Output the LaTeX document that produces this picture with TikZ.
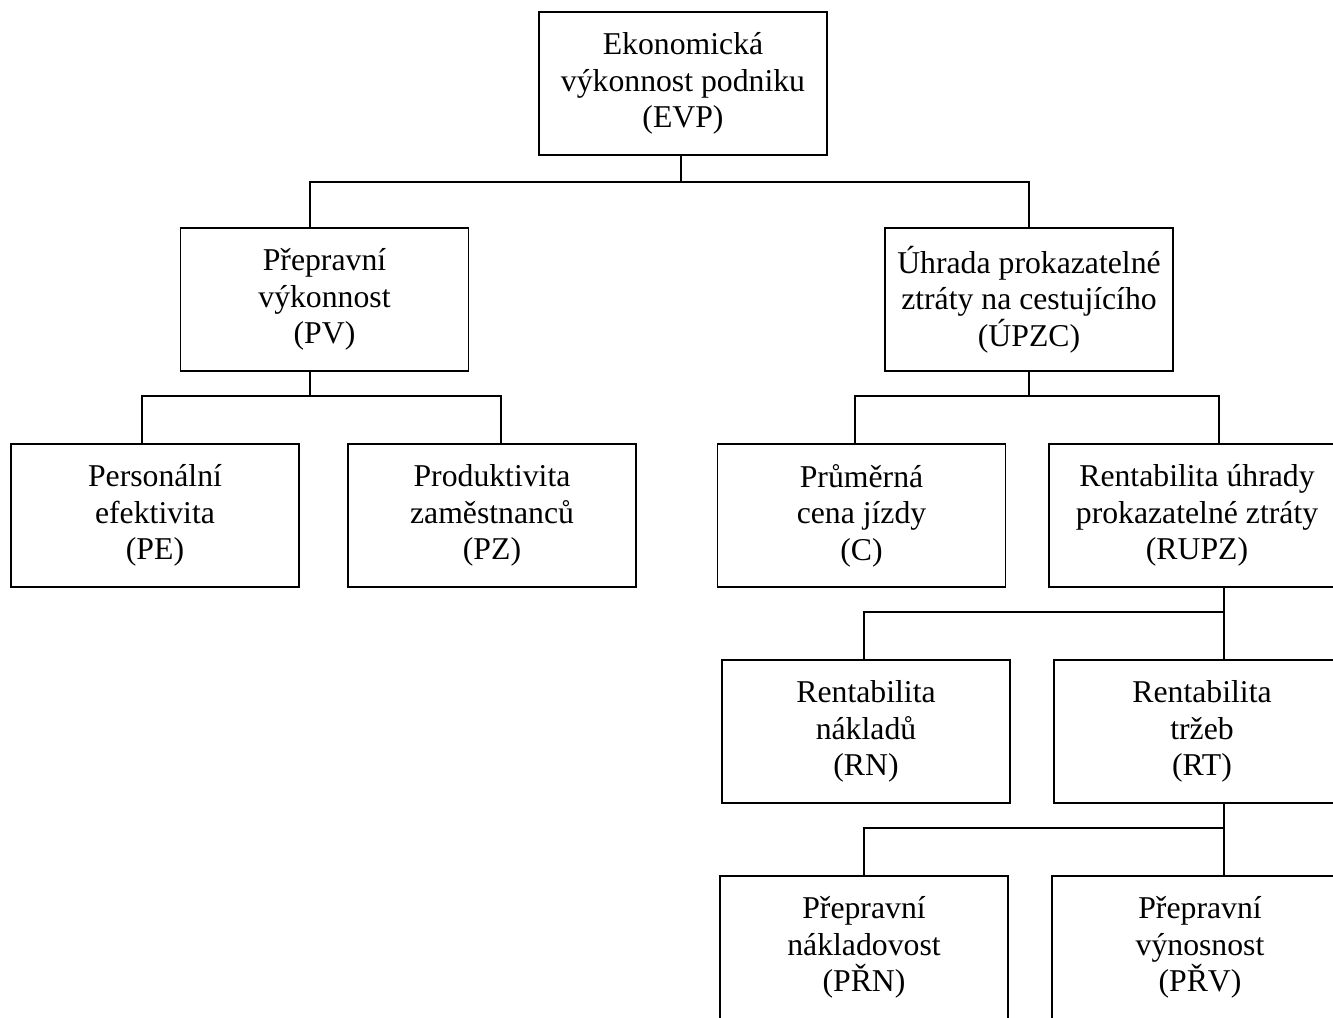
\documentclass[tikz,border=0pt]{standalone}
\usepackage{fontspec}
\setmainfont{Liberation Serif}
\begin{document}
\begin{tikzpicture}[x=0.75pt,y=-0.75pt,
  box/.style={draw=black, line width=1.4pt, inner sep=0pt, outer sep=0pt,
    minimum width=216pt, minimum height=107.25pt, align=center,
    font=\fontsize{23.8pt}{27.4pt}\selectfont},
  widebox/.style={box, minimum width=222pt},
  conn/.style={draw=black, line width=1.4pt}]
\useasboundingbox (0,0) rectangle (1333,1017);
\clip (0,0) rectangle (1333,1017);
\fill[white] (0,0) rectangle (1333,1017);
% row 1
\node[box] (evp) at (683,83.5) {Ekonomická\\výkonnost podniku\\(EVP)};
% row 2
\node[box] (pv) at (324.5,299.5) {Přepravní\\výkonnost\\(PV)};
\node[box] (upzc) at (1029,299.5) {Úhrada prokazatelné\\ztráty na cestujícího\\(ÚPZC)};
% row 3
\node[box] (pe) at (155,515.5) {Personální\\efektivita\\(PE)};
\node[box] (pz) at (492,515.5) {Produktivita\\zaměstnanců\\(PZ)};
\node[box] (c) at (861.5,515.5) {Průměrná\\cena jízdy\\(C)};
\node[widebox] (rupz) at (1197,515.5) {Rentabilita úhrady\\prokazatelné ztráty\\(RUPZ)};
% row 4
\node[box] (rn) at (866,731.5) {Rentabilita\\nákladů\\(RN)};
\node[widebox] (rt) at (1202,731.5) {Rentabilita\\tržeb\\(RT)};
% row 5
\node[box] (prn) at (864,947.5) {Přepravní\\nákladovost\\(PŘN)};
\node[widebox] (prv) at (1200,947.5) {Přepravní\\výnosnost\\(PŘV)};
% connectors
\draw[conn] ([xshift=-1.5pt]evp.south) -- ++(0,27) coordinate (evpbus);
\draw[conn] ([xshift=-10.9pt]pv.north) |- (evpbus) -| (upzc.north);
\draw[conn] ([xshift=-10.9pt]pv.south) -- ++(0,25) coordinate (pvbus);
\draw[conn] ([xshift=-9.75pt]pe.north) |- (pvbus) -| ([xshift=6.75pt]pz.north);
\draw[conn] (upzc.south) -- ++(0,25) coordinate (upbus);
\draw[conn] ([xshift=-4.9pt]c.north) |- (upbus) -| ([xshift=16.5pt]rupz.north);
\draw[conn] ([xshift=20.25pt]rupz.south) -- ++(0,25) coordinate (rbus);
\draw[conn] ([xshift=-1.5pt]rn.north) |- (rbus) -- (rbus |- rt.north);
\draw[conn] ([xshift=16.5pt]rt.south) -- ++(0,25) coordinate (tbus);
\draw[conn] (prn.north) |- (tbus) -- (tbus |- prv.north);
\end{tikzpicture}
\end{document}
